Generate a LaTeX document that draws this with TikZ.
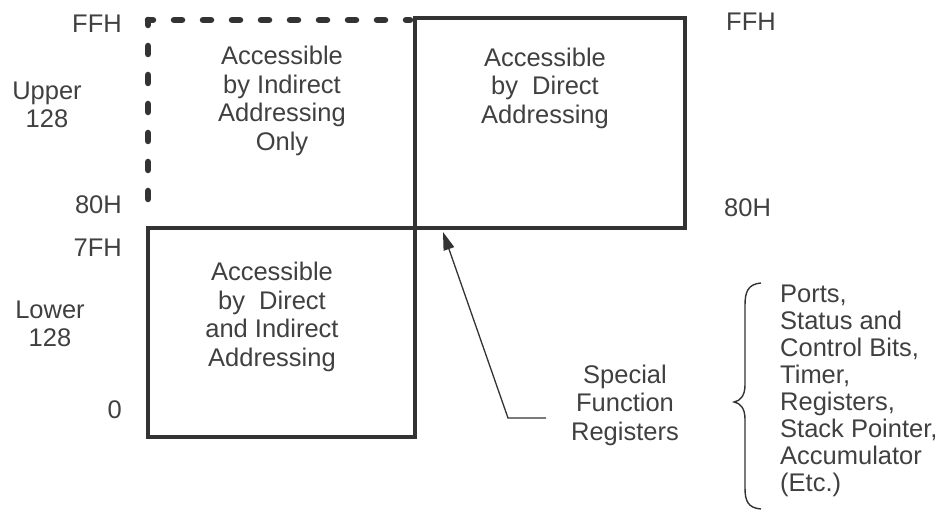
\documentclass[tikz,border=0pt]{standalone}
\usepackage{fontspec}
\setmainfont{Liberation Sans}
\usetikzlibrary{arrows.meta}
\definecolor{txt}{HTML}{404040}
\definecolor{ln}{HTML}{333333}
\tikzset{
  lbl/.style={text=txt, font=\fontsize{25.5}{28.5}\selectfont, inner sep=0pt, align=center},
  lst/.style={text=txt, font=\fontsize{25.5}{27}\selectfont, inner sep=0pt, align=left},
  box/.style={draw=ln, line width=4.5pt, line join=miter},
  dbox/.style={draw=ln, line width=6.5pt, line cap=round, dash pattern=on 8pt off 21pt, dash phase=3pt},
  pointer/.style={draw=ln, line width=1.3pt, -{Triangle[length=18pt,width=11pt]}},
  brc/.style={draw=ln, line width=1.4pt}
}
\begin{document}
\begin{tikzpicture}[x=1pt,y=-1pt]
\useasboundingbox (0,0) rectangle (945,518);
% dashed region (indirect only)
\draw[dbox] (148,20) -- (148,218);
\draw[dbox] (148,20) -- (410,20);
% upper direct box
\draw[box] (415,228) rectangle (685,18);
% lower box
\draw[box] (148,228) rectangle (415,437);
% texts in boxes
\node[lbl] (ui) at (282,101) {Accessible\\by Indirect\\Addressing\\Only};
\node[lbl] (ud) at (545,88) {Accessible\\by~ Direct\\Addressing};
\node[lbl] (lo) at (272,317) {Accessible\\by~ Direct\\and Indirect\\Addressing};
% address labels
\node[lbl, anchor=east] (ffhl) at (122,24) {FFH};
\node[lbl, anchor=east] (h80l) at (122,205) {80H};
\node[lbl, anchor=east] (h7f) at (122,248) {7FH};
\node[lbl, anchor=east] (zero) at (122,410) {0};
\node[lbl, anchor=west] (ffhr) at (726,22) {FFH};
\node[lbl, anchor=west] (h80r) at (724,208) {80H};
\node[lbl] (up) at (47,105) {Upper\\128};
\node[lbl] (lw) at (50,324) {Lower\\128};
% SFR
\node[lbl] (sfr) at (625,405) {Special\\Function\\Registers};
\coordinate (a1) at (546,418);
\coordinate (a2) at (508,418);
\coordinate (tip) at (443,232);
\draw[pointer] (a1) -- (a2) -- (tip);
% brace
\coordinate (bt) at (761,283);
\coordinate (bm) at (734,402);
\coordinate (bb) at (761,509);
\draw[brc] (bt) .. controls (748,284) and (745,292) .. (745,305)
  -- (745,385) .. controls (745,396) and (740,401) .. (bm)
  .. controls (740,403) and (745,408) .. (745,419)
  -- (745,488) .. controls (745,501) and (748,508) .. (bb);
\node[lst, anchor=west] (list) at (780,391) {Ports,\\Status and\\Control Bits,\\Timer,\\Registers,\\Stack Pointer,\\Accumulator\\(Etc.)};
\end{tikzpicture}
\end{document}
